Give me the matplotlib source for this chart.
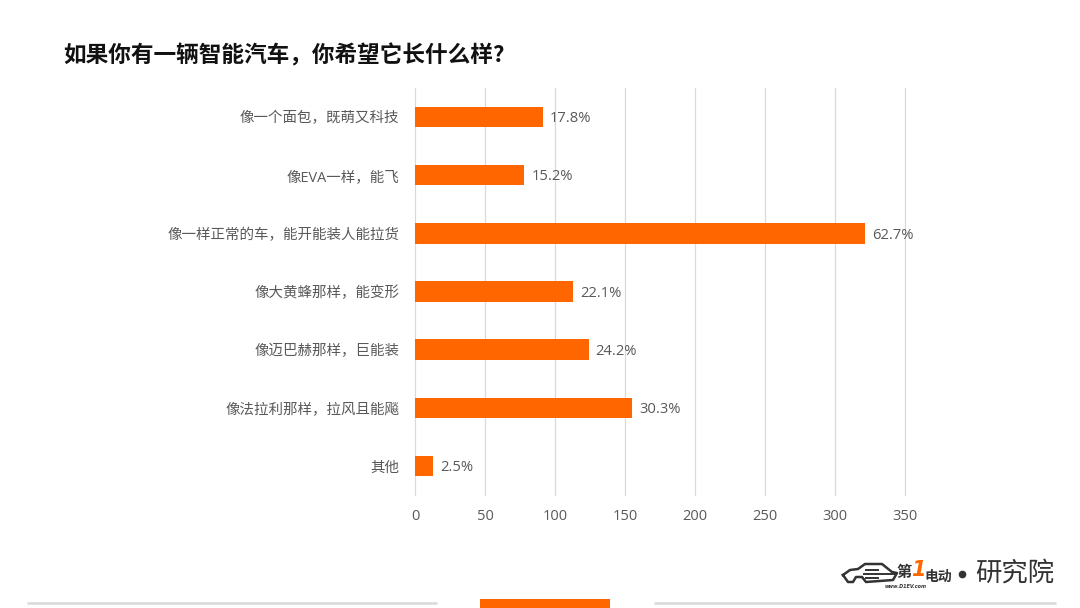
import matplotlib
matplotlib.use("Agg")
import matplotlib.pyplot as plt
from matplotlib.patches import Rectangle
from matplotlib.lines import Line2D

plt.rcParams['font.family'] = ['Open Sans', 'Noto Sans CJK SC', 'DejaVu Sans']

categories = ['像一个面包，既萌又科技', '像EVA一样，能飞', '像一样正常的车，能开能装人能拉货',
              '像大黄蜂那样，能变形', '像迈巴赫那样，巨能装', '像法拉利那样，拉风且能飚', '其他']
counts = [91, 78, 321.5, 113, 124, 155, 13]
shares = ['17.8%', '15.2%', '62.7%', '22.1%', '24.2%', '30.3%', '2.5%']
x_ticks = [0, 50, 100, 150, 200, 250, 300, 350]
title = '如果你有一辆智能汽车，你希望它长什么样?'

W, H = 1080, 608
ORANGE = '#FF6600'
GREY = '#595959'
DARK = '#333333'

fig = plt.figure(figsize=(W / 100, H / 100), dpi=100, facecolor='white')
ax = fig.add_axes([415.2 / W, 1 - 495 / H, (905.2 - 415.2) / W, (495 - 88) / H])

y = list(range(len(categories)))
ax.barh(y, counts, height=0.35, color=ORANGE, zorder=3)
ax.set_xlim(0, 350)
ax.set_ylim(len(categories) - 0.5, -0.5)
ax.set_xticks(x_ticks)
ax.set_yticks(y, categories)
ax.grid(axis='x', color='#D9D9D9', linewidth=0.9, zorder=0, clip_on=False)
for gl in ax.get_xgridlines():
    gl.set_clip_on(False)
ax.tick_params(axis='both', length=0, labelsize=10.45, labelcolor=GREY)
ax.tick_params(axis='y', pad=11.5)
ax.tick_params(axis='x', pad=10)
for s in ax.spines.values():
    s.set_visible(False)
for lab in ax.get_xticklabels():
    lab.set_fontsize(10.5)

for yi, c, s in zip(y, counts, shares):
    ax.annotate(s, (c, yi), xytext=(5, -1.2), textcoords='offset points',
                va='center', ha='left', fontsize=10.6, color=GREY)

def px(xp, yp):
    return xp / W, 1 - yp / H

fig.text(*px(63.5, 56), title, fontsize=16.3, fontweight='bold', color='#111111', va='center', ha='left',
         family=['Noto Sans CJK SC', 'DejaVu Sans'])

# footer rules and tab
for x0, x1 in [(27, 437), (654, 1056)]:
    fig.add_artist(Line2D([x0 / W, x1 / W], [1 - 602.5 / H] * 2, color='#D9D9D9', linewidth=1.8,
                          solid_capstyle='butt'))
fig.add_artist(Rectangle(px(480, 608), 130 / W, 9 / H, transform=fig.transFigure, color=ORANGE, lw=0))

# logo
car_x = [843, 850, 858, 865, 882, 892, 897, 893, 866, 862, 856, 853, 848, 843]
car_y = [575, 570, 569, 564, 564, 572, 573, 580, 582, 577, 577, 582, 582, 575]
fig.add_artist(Line2D([v / W for v in car_x], [1 - v / H for v in car_y], color=DARK, linewidth=1.8))
for yl, x0, x1 in [(570, 866, 878), (574, 864, 896), (578, 866, 878)]:
    fig.add_artist(Line2D([x0 / W, x1 / W], [1 - yl / H] * 2, color=DARK, linewidth=1.4))
cjk = ['Noto Sans CJK SC', 'DejaVu Sans']
fig.text(*px(896, 572), '第', fontsize=11, fontweight='bold', color=DARK, va='center', ha='left', family=cjk)
fig.text(*px(911, 570), '1', fontsize=15, fontweight='bold', style='italic', color=ORANGE, va='center', ha='left',
         family='DejaVu Sans')
fig.text(*px(924, 577), '电动', fontsize=10, fontweight='bold', color=DARK, va='center', ha='left', family=cjk)
fig.text(*px(885, 586), 'www.D1EV.com', fontsize=3.5, style='italic', fontweight='bold', color=DARK, va='center',
         ha='left', family='DejaVu Sans')
fig.add_artist(Line2D([962 / W], [1 - 574 / H], marker='o', markersize=4.5, color=DARK, linestyle='none'))
fig.text(*px(975, 573), '研究院', fontsize=19, color=DARK, va='center', ha='left', family=cjk)

fig.savefig('out.png', dpi=100, facecolor='white')
